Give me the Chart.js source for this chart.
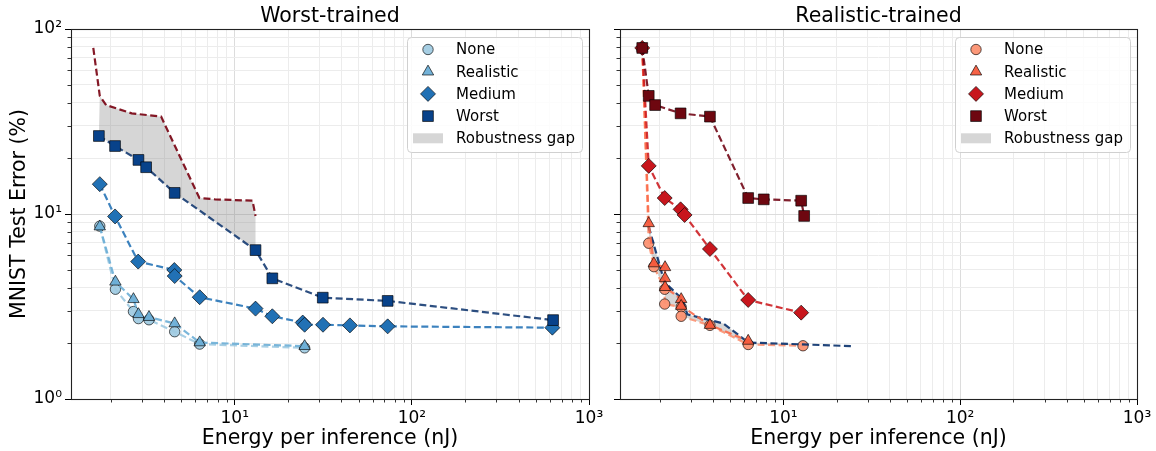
<!DOCTYPE html>
<html>
<head>
<meta charset="utf-8">
<script src="https://cdn.jsdelivr.net/npm/chart.js@4.4.1/dist/chart.umd.min.js"></script>
<style>
  html, body { margin: 0; padding: 0; background: #fff; }
  #wrap { position: relative; width: 1156px; height: 451px; }
  canvas { position: absolute; top: 0; }
  #left { left: 0; }
  #right { left: 600px; }
</style>
</head>
<body>
<div id="wrap">
  <canvas id="left" width="614" height="451"></canvas>
  <canvas id="right" width="556" height="451"></canvas>
</div>
<script>
// Worst-trained models, [energy per inference (nJ), test error (%)]
const wtNone      = [[1.73, 8.6], [2.12, 3.92], [2.68, 2.97], [2.86, 2.72], [3.28, 2.68], [4.58, 2.31], [6.34, 1.98], [24.8, 1.89]];
const wtRealistic = [[1.73, 8.55], [2.12, 4.3], [2.68, 3.46], [2.86, 2.87], [3.28, 2.77], [4.58, 2.56], [6.34, 2.02], [24.8, 1.93]];
const wtMedium    = [[1.73, 14.5], [2.11, 9.7], [2.85, 5.53], [4.56, 4.98], [4.58, 4.62], [6.34, 3.55], [13.1, 3.08], [16.3, 2.8],
                     [24.2, 2.59], [24.8, 2.52], [31.5, 2.52], [44.7, 2.5], [73, 2.47], [621, 2.43]];
const wtWorst     = [[1.71, 26.4], [2.11, 23.3], [2.86, 19.6], [3.16, 17.9], [4.58, 13.0], [13.1, 6.38], [16.3, 4.49],
                     [31.4, 3.53], [73, 3.39], [627, 2.67]];

// Realistic-trained models
const rtNone      = [[1.59, 79], [1.73, 6.95], [1.85, 5.19], [2.13, 3.92], [2.13, 3.26], [2.64, 3.14], [2.64, 2.8], [3.84, 2.5], [6.32, 1.97], [12.9, 1.94]];
const rtRealistic = [[1.59, 79], [1.73, 8.9], [1.85, 5.4], [2.14, 5.15], [2.14, 4.49], [2.14, 4.02], [2.64, 3.46], [2.64, 3.18], [3.84, 2.51], [6.32, 2.06]];
const rtMedium    = [[1.59, 79], [1.73, 18.2], [2.13, 12.2], [2.62, 10.6], [2.76, 9.88], [3.84, 6.47], [6.32, 3.43], [12.6, 2.93]];
const rtWorst     = [[1.59, 79], [1.73, 43.5], [1.88, 38.8], [2.62, 35.0], [3.84, 33.6], [6.32, 12.2], [7.74, 12.0], [12.6, 11.8], [13.1, 9.76]];

const legendLabels = ['None', 'Realistic', 'Medium', 'Worst', 'Robustness gap'];
const decades = [1, 10, 100, 1000];
const xLimits = [1.19, 1000];
const yLimits = [1, 100];

const FONT = "'DejaVu Sans', sans-serif";
Chart.defaults.font.family = FONT;
Chart.defaults.color = '#000';

const GAP = 'rgba(128,128,128,0.32)';
const EDGE = 'rgba(0,0,0,0.8)';
const SUP = { '0': '\u2070', '1': '\u00b9', '2': '\u00b2', '3': '\u00b3' };

function isMajor(v) {
  const l = Math.log10(v);
  return Math.abs(l - Math.round(l)) < 1e-9;
}

function logTicks(min, max) {
  const out = [];
  decades.forEach(d => {
    for (let m = 1; m <= 9; m++) {
      const v = d * m;
      if (v >= min * 0.999 && v <= max * 1.001) out.push(v);
    }
  });
  return out;
}

function powLabel(v) {
  return '10' + SUP[String(Math.round(Math.log10(v)))];
}

function pts(arr) {
  return arr.map(([x, y]) => ({ x, y }));
}

// one scatter series with a dashed connecting line
function series(label, data, style, radius, fill, line, order) {
  return {
    label, data: pts(data), order, inLegend: true,
    pointStyle: style, pointRadius: radius, pointHoverRadius: radius,
    pointBackgroundColor: fill, pointBorderColor: EDGE, pointBorderWidth: 0.8,
    borderColor: line, borderWidth: 2.2, borderDash: [7, 3.5], fill: false, tension: 0
  };
}

function overlay(data, color, order, fill) {
  return {
    label: '', data: pts(data), order, pointRadius: 0, pointHoverRadius: 0,
    borderColor: color, borderWidth: 2.2, borderDash: [7, 3.5], tension: 0,
    fill: fill || false, backgroundColor: GAP
  };
}

function xAxis() {
  return {
    type: 'logarithmic', min: xLimits[0], max: xLimits[1],
    afterBuildTicks: s => { s.ticks = logTicks(xLimits[0], xLimits[1]).map(v => ({ value: v })); },
    afterFit: s => { s.height = 52; s.paddingLeft = 0; s.paddingRight = 0; },
    ticks: { autoSkip: false, maxRotation: 0, padding: 3, font: { size: 17 },
             callback: v => isMajor(v) ? powLabel(v) : '' },
    grid: { color: c => isMajor(c.tick.value) ? '#dcdcdc' : '#ececec', lineWidth: 1, tickLength: 6,
            tickColor: c => isMajor(c.tick.value) ? '#000' : 'rgba(0,0,0,0)' },
    border: { display: false },
    title: { display: true, text: 'Energy per inference (nJ)', font: { size: 20.5 }, padding: { top: 0, bottom: 0 } }
  };
}

function yAxis(width, showLabels) {
  return {
    type: 'logarithmic', min: yLimits[0], max: yLimits[1],
    afterBuildTicks: s => { s.ticks = logTicks(yLimits[0], yLimits[1]).map(v => ({ value: v })); },
    afterFit: s => { s.width = width; s.paddingTop = 0; s.paddingBottom = 0; },
    ticks: { autoSkip: false, padding: 3, font: { size: 17 },
             callback: v => (showLabels && isMajor(v)) ? powLabel(v) : '' },
    grid: { color: c => isMajor(c.tick.value) ? '#dcdcdc' : '#ececec', lineWidth: 1, tickLength: 6,
            tickColor: c => isMajor(c.tick.value) ? '#000' : 'rgba(0,0,0,0)' },
    border: { display: false },
    title: { display: showLabels, text: 'MNIST Test Error (%)', font: { size: 20.5 }, padding: { top: 7, bottom: 0 } }
  };
}

// frame + short minor tick marks
const framePlugin = {
  id: 'frame',
  afterDatasetsDraw(chart) {
    const { ctx, chartArea: a, scales } = chart;
    ctx.save();
    ctx.strokeStyle = '#000';
    ctx.lineWidth = 0.8;
    ctx.beginPath();
    scales.x.ticks.forEach(t => {
      if (isMajor(t.value)) return;
      const px = Math.round(scales.x.getPixelForValue(t.value)) + 0.5;
      ctx.moveTo(px, a.bottom);
      ctx.lineTo(px, a.bottom + 3.5);
    });
    scales.y.ticks.forEach(t => {
      if (isMajor(t.value)) return;
      const py = Math.round(scales.y.getPixelForValue(t.value)) + 0.5;
      ctx.moveTo(a.left, py);
      ctx.lineTo(a.left - 3.5, py);
    });
    ctx.stroke();
    ctx.strokeStyle = '#222';
    ctx.lineWidth = 1.1;
    ctx.strokeRect(Math.round(a.left) + 0.5, Math.round(a.top) + 0.5, Math.round(a.right - a.left), Math.round(a.bottom - a.top));
    ctx.restore();
  }
};

// matplotlib-style legend box in the upper right corner
const legendPlugin = {
  id: 'boxLegend',
  afterDraw(chart) {
    const { ctx, chartArea: a } = chart;
    const items = chart.data.datasets.filter(d => d.inLegend);
    const w = 175, h = 115, rowH = 22.2;
    const left = a.right - 7 - w, top = a.top + 8;
    ctx.save();
    ctx.fillStyle = 'rgba(255,255,255,0.85)';
    ctx.strokeStyle = '#d0d0d0';
    ctx.lineWidth = 1;
    ctx.beginPath();
    ctx.roundRect(left + 0.5, top + 0.5, w, h, 4);
    ctx.fill();
    ctx.stroke();
    ctx.font = '15px ' + FONT;
    ctx.textBaseline = 'middle';
    ctx.fillStyle = '#000';
    legendLabels.forEach((label, i) => {
      const cy = top + 12.5 + i * rowH;
      const d = items[i];
      if (d) {
        ctx.save();
        ctx.fillStyle = d.pointBackgroundColor;
        ctx.strokeStyle = EDGE;
        ctx.lineWidth = 0.8;
        Chart.helpers.drawPoint(ctx, { pointStyle: d.pointStyle, radius: d.pointRadius, rotation: 0, borderWidth: 0.8 }, left + 21, cy);
        ctx.restore();
      } else {
        ctx.fillStyle = GAP;
        ctx.fillRect(left + 6, cy - 5, 30, 10);
        ctx.fillStyle = '#000';
      }
      ctx.fillText(label, left + 49, cy + 1);
    });
    ctx.restore();
  }
};

function options(title, yWidth, rightPad, showY) {
  return {
    responsive: false,
    animation: false,
    events: [],
    layout: { padding: { top: 0, left: 0, right: rightPad, bottom: 0 } },
    scales: { x: xAxis(), y: yAxis(yWidth, showY) },
    plugins: {
      legend: { display: false },
      tooltip: { enabled: false },
      filler: { drawTime: 'beforeDatasetsDraw' },
      title: { display: true, text: title, fullSize: false, font: { size: 20.5, weight: 'normal' },
               color: '#000', padding: { top: 4, bottom: 0.4 } }
    }
  };
}

// left panel: gap between worst-trained worst curve and realistic-trained worst curve
const gapTop = rtWorst.filter(([x]) => x >= wtWorst[0][0]);
const gapBottom = wtWorst.filter(([x]) => x <= rtWorst[rtWorst.length - 1][0]).reverse();

new Chart(document.getElementById('left'), {
  type: 'line',
  data: {
    datasets: [
      series('None', wtNone, 'circle', 5.2, 'rgba(158,202,225,0.92)', 'rgba(158,202,225,0.9)', 5),
      series('Realistic', wtRealistic, 'triangle', 6.6, 'rgba(107,174,214,0.95)', 'rgba(107,174,214,0.9)', 4),
      series('Medium', wtMedium, 'rectRot', 7.5, '#2171b5', 'rgba(33,113,181,0.88)', 3),
      series('Worst', wtWorst, 'rect', 7.6, '#08428a', 'rgba(8,48,107,0.85)', 2),
      overlay(rtWorst, 'rgba(120,0,16,0.9)', 6),
      { label: '', data: pts(gapTop.concat(gapBottom)), order: 8, pointRadius: 0, pointHoverRadius: 0,
        borderWidth: 0, borderColor: 'rgba(0,0,0,0)', backgroundColor: GAP, fill: 'shape', tension: 0 }
    ]
  },
  options: options('Worst-trained', 71, 25, true),
  plugins: [framePlugin, legendPlugin]
});

// right panel: gap where the worst-trained realistic curve lies above the realistic-trained none curve
new Chart(document.getElementById('right'), {
  type: 'line',
  data: {
    datasets: [
      series('None', rtNone, 'circle', 5.2, 'rgba(252,146,114,0.95)', 'rgba(252,146,114,0.9)', 5),
      series('Realistic', rtRealistic, 'triangle', 6.6, 'rgba(246,90,60,0.95)', 'rgba(251,106,74,0.9)', 3),
      series('Medium', rtMedium, 'rectRot', 7.5, '#c8161d', 'rgba(203,24,29,0.88)', 2),
      series('Worst', rtWorst, 'rect', 7.6, '#6e0710', 'rgba(110,0,16,0.88)', 1),
      overlay(wtRealistic, 'rgba(8,48,107,0.9)', 4, { target: 0, above: GAP, below: 'rgba(0,0,0,0)' })
    ]
  },
  options: options('Realistic-trained', 20, 19, false),
  plugins: [framePlugin, legendPlugin]
});
</script>
</body>
</html>
